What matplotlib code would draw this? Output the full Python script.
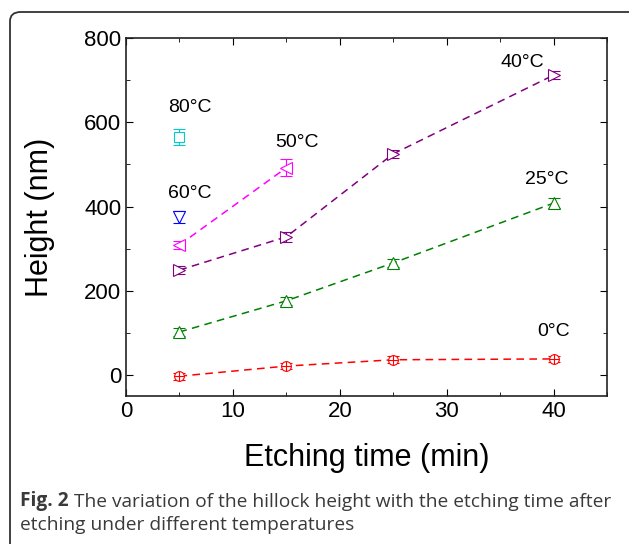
import numpy as np
import matplotlib.pyplot as plt
from matplotlib.patches import FancyBboxPatch
from matplotlib.ticker import MultipleLocator

# etching time (min) and hillock height (nm) for each temperature
t_0 = [5, 15, 25, 40]
h_0 = [-3, 21, 36, 38]
e_0 = [8, 8, 8, 8]

t_25 = [5, 15, 25, 40]
h_25 = [102, 176, 266, 408]
e_25 = [10, 10, 10, 12]

t_40 = [5, 15, 25, 40]
h_40 = [249, 328, 525, 712]
e_40 = [10, 12, 10, 10]

t_50 = [5, 15]
h_50 = [309, 492]
e_50 = [10, 20]

t_60 = [5]
h_60 = [375]
e_60 = [14]

t_80 = [5]
h_80 = [565]
e_80 = [18]

labels = ["0°C", "25°C", "40°C", "50°C", "60°C", "80°C"]
label_pos = [(40, 102), (39.4, 463), (37.1, 741), (16, 551), (6, 432), (6, 634)]

plt.rcParams['font.family'] = ['Liberation Sans', 'DejaVu Sans']

fig = plt.figure(figsize=(6.29, 5.44), dpi=100)
ax = fig.add_axes([0.2003, 0.2721, 0.7647, 0.6579])

series = [
    (t_0, h_0, e_0, 'red', 'o'),
    (t_25, h_25, e_25, 'green', '^'),
    (t_40, h_40, e_40, 'purple', '>'),
    (t_50, h_50, e_50, 'magenta', '<'),
    (t_60, h_60, e_60, 'blue', 'v'),
    (t_80, h_80, e_80, '#00cccc', 's'),
]
for t, h, e, c, m in series:
    if len(t) > 1:
        ax.plot(t, h, '--', color=c, lw=1.1, dashes=(5, 3.5))
    ms = 7 if m in ('o', 's') else 8.5
    ax.errorbar(t, h, yerr=e, fmt=m, color=c, mfc='white', mec=c, ms=ms,
                mew=0.8, elinewidth=0.8, capsize=4, capthick=0.8, zorder=3)
    if m == 'o':
        ax.plot(t, h, '+', color=c, ms=7, mew=0.8, zorder=4)

for lab, (x, y) in zip(labels, label_pos):
    ax.text(x, y, lab, ha='center', va='center', fontsize=14)

ax.set_xlim(0, 45)
ax.set_ylim(-50, 800)
ax.xaxis.set_major_locator(MultipleLocator(10))
ax.xaxis.set_minor_locator(MultipleLocator(5))
ax.yaxis.set_major_locator(MultipleLocator(200))
ax.yaxis.set_minor_locator(MultipleLocator(100))
ax.tick_params(which='both', direction='in', top=True, right=True, labelsize=16)
ax.tick_params(which='major', length=5)
ax.tick_params(which='minor', length=3)
for s in ax.spines.values():
    s.set_linewidth(1.2)
    s.set_color('#222222')

ax.set_xlabel("Etching time (min)", fontsize=22, labelpad=15)
ax.set_ylabel("Height (nm)", fontsize=22, labelpad=21)

# rounded frame around figure and caption
W, H = 629, 544
box = FancyBboxPatch((10 / W, -30 / H), 640 / W, 562 / H,
                     boxstyle="round,pad=0,rounding_size=0.017",
                     transform=fig.transFigure, fill=False,
                     ec='#333333', lw=1.3)
fig.add_artist(box)

cap_kw = dict(fontsize=13.8, family='Open Sans', color='#3a3a3a')
t1 = fig.text(20 / W, 1 - 506 / H, "Fig. 2", fontweight='bold',
              va='baseline', **cap_kw)
ax.annotate(" The variation of the hillock height with the etching time after",
            xy=(1, 0), xycoords=t1, va='bottom', ha='left',
            annotation_clip=False, **cap_kw)
fig.text(20 / W, 1 - 530 / H, "etching under different temperatures",
         va='baseline', **cap_kw)

fig.savefig("out.png", dpi=100)
